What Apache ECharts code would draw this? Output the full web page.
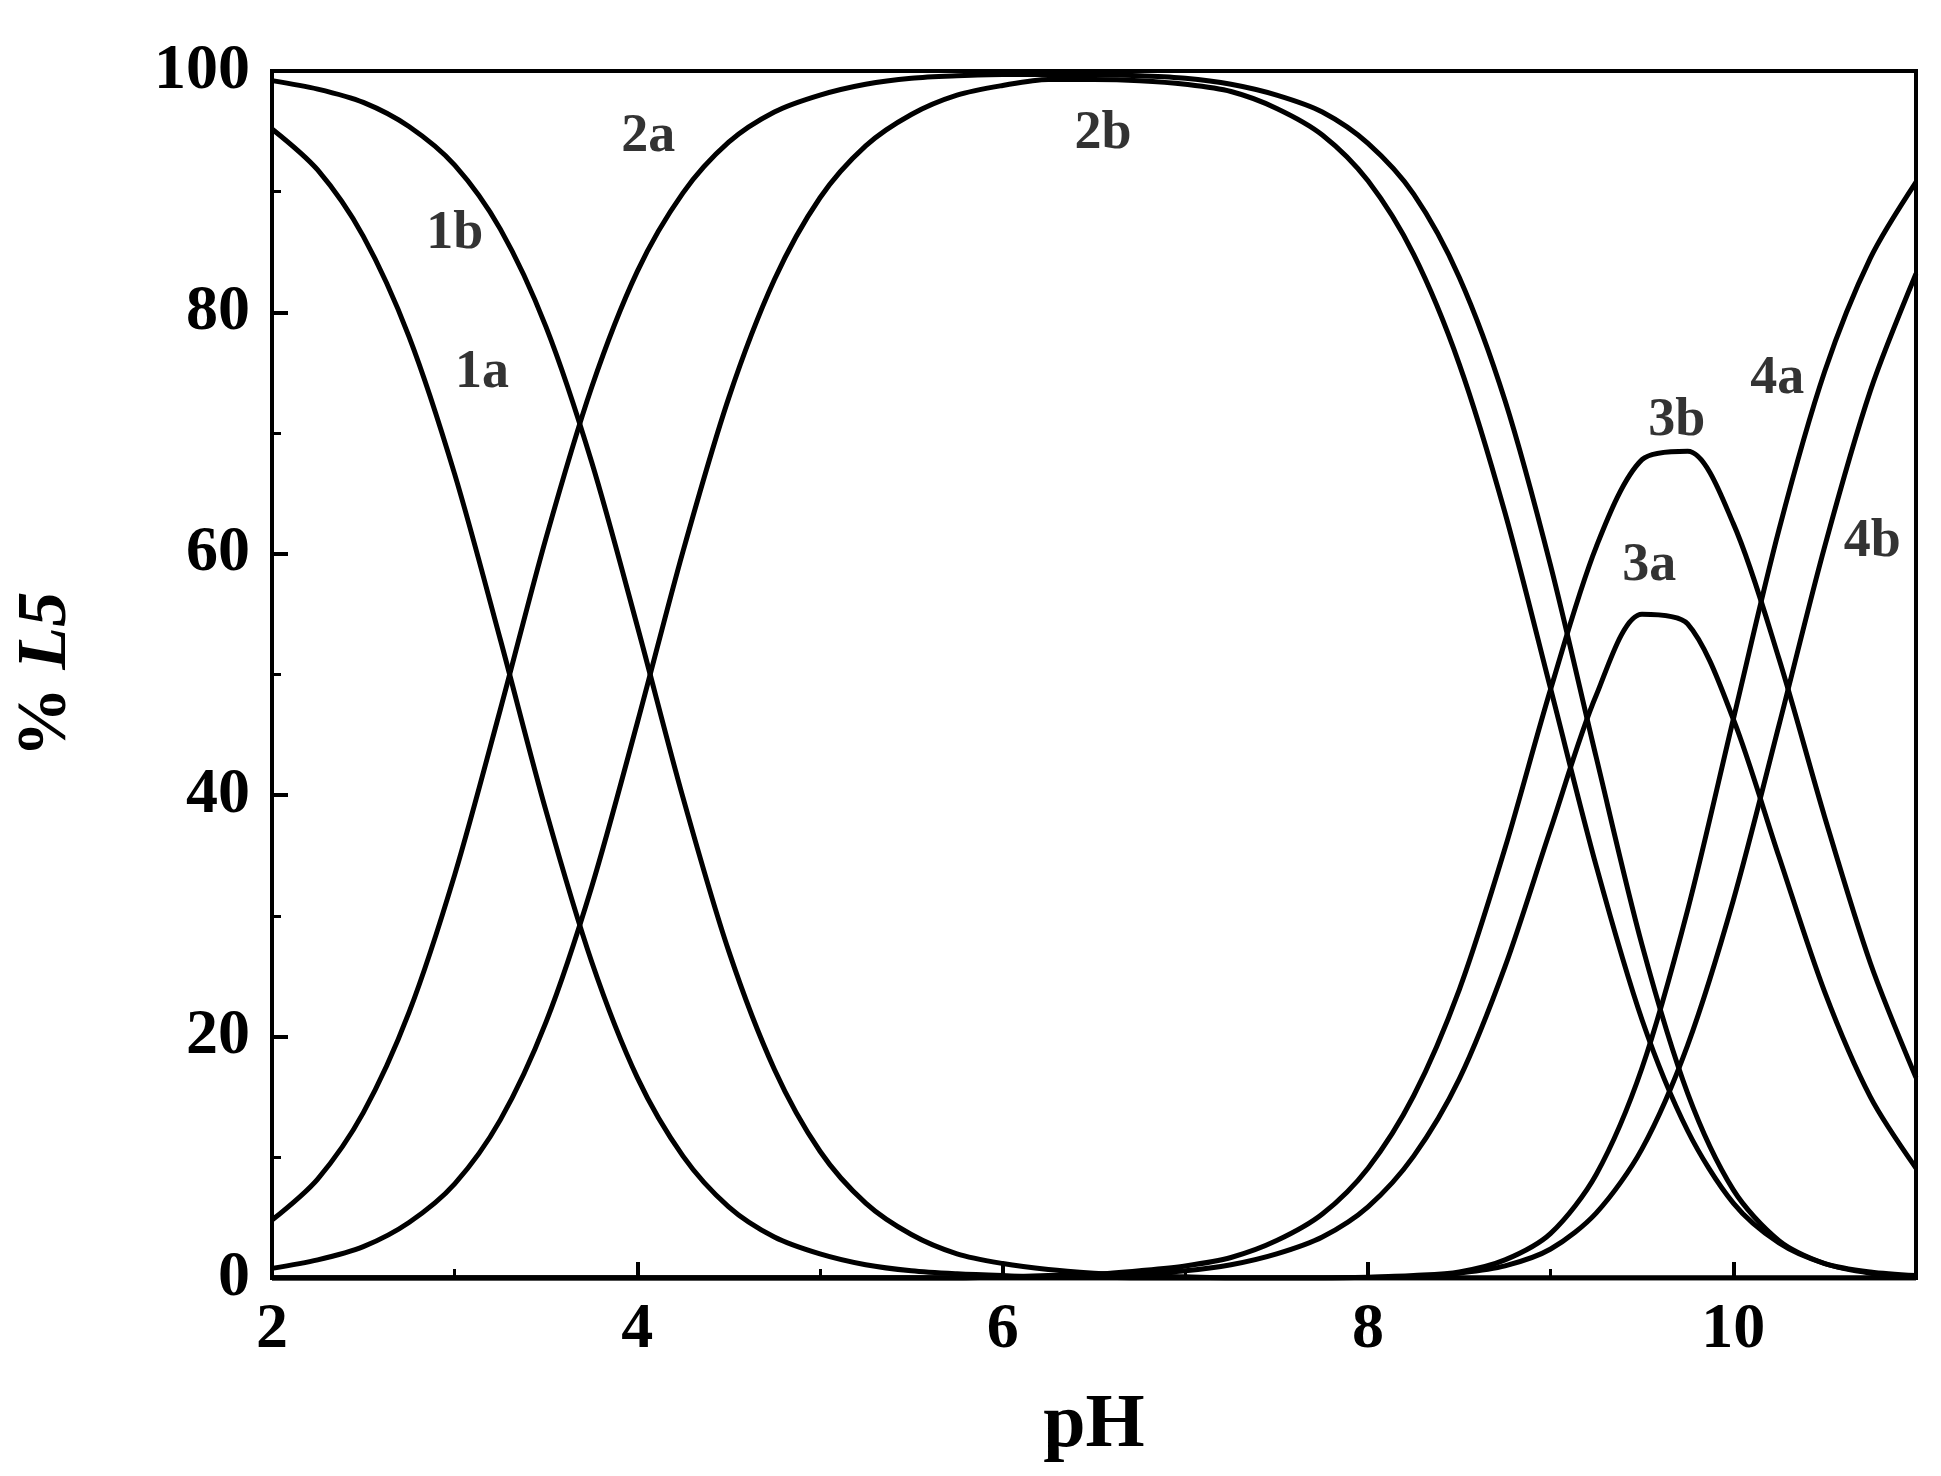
<!DOCTYPE html>
<html>
<head>
<meta charset="UTF-8" />
<title>L5 distribution</title>
<script src="https://cdn.jsdelivr.net/npm/echarts@6/dist/echarts.min.js"></script>
<style>
* { margin: 0; padding: 0; }
html, body { background: #fff; }
#chart { width: 1941px; height: 1476px; }
</style>
</head>
<body>
<div id="chart"></div>
<script>
// pH grid 2 .. 11, step 0.25
let ph = []
for (let i = 0; i <= 36; i++) ph.push(2 + i * 0.25)

let s1a = [95.2,91.8,86.3,78.0,66.6,52.9,38.7,26.2,16.6,10.1,5.9,3.4,2.0,1.1,0.6,0.35,0.2,0.1,0.1,0,0,0,0,0,0,0,0,0,0,0,0,0,0,0,0,0,0]
let s1b = [99.2,98.5,97.4,95.4,92.2,86.9,78.8,67.6,54.0,39.8,27.1,17.3,10.5,6.2,3.6,2.0,1.2,0.7,0.4,0.2,0.1,0,0,0,0,0,0,0,0,0,0,0,0,0,0,0,0]
let s2a = [4.8,8.2,13.7,22.0,33.4,47.1,61.3,73.8,83.4,89.9,94.1,96.6,98.0,98.9,99.4,99.6,99.7,99.7,99.7,99.6,99.4,98.9,98.0,96.6,94.0,89.8,82.9,72.7,59.0,43.1,27.6,15.3,7.3,3.1,1.2,0.4,0.1]
let s2b = [0.8,1.5,2.6,4.6,7.8,13.1,21.2,32.4,46.0,60.2,72.9,82.7,89.5,93.8,96.4,98.0,98.8,99.3,99.3,99.2,98.9,98.3,96.9,94.7,90.9,84.8,75.7,63.4,48.8,34.1,21.4,12.2,6.2,2.9,1.2,0.5,0.2]
let s3a = [0,0,0,0,0,0,0,0,0,0,0,0,0,0,0,0,0.1,0.1,0.2,0.4,0.6,1.1,2.0,3.4,5.9,10.1,16.5,25.8,37.2,48.3,55.0,54.2,46.3,34.9,23.7,15.0,9.1]
let s3b = [0,0,0,0,0,0,0,0,0,0,0,0,0,0,0,0,0.1,0.2,0.3,0.6,1.0,1.7,3.1,5.3,9.1,15.1,23.9,35.6,48.8,60.6,67.8,68.5,62.5,51.3,38.2,26.1,16.6]
let s4a = [0,0,0,0,0,0,0,0,0,0,0,0,0,0,0,0,0,0,0,0,0,0,0,0,0.06,0.2,0.5,1.5,3.7,8.6,17.4,30.5,46.3,62.0,75.1,84.5,90.8]
let s4b = [0,0,0,0,0,0,0,0,0,0,0,0,0,0,0,0,0,0,0,0,0,0,0,0,0.05,0.1,0.4,1.0,2.4,5.4,10.7,19.3,31.3,45.8,60.6,73.5,83.2]

// curve labels: text, pH, %
let curveLabels = [
  ['1b', 3.0, 86.5], ['1a', 3.15, 75], ['2a', 4.06, 94.5], ['2b', 6.55, 94.8],
  ['3b', 9.69, 71], ['3a', 9.54, 59], ['4a', 10.24, 74.5], ['4b', 10.76, 61]
]

let font = 'Liberation Serif'
let chart = echarts.init(document.getElementById('chart'))

function line(vals) {
  return {
    type: 'line', smooth: 0.3, symbol: 'none',
    lineStyle: { color: '#000', width: 5 },
    data: ph.map((x, i) => [x, vals[i]])
  }
}

let option = {
  backgroundColor: '#fff',
  animation: false,
  grid: { left: 272, right: 25, top: 71, bottom: 198, show: true, borderColor: '#000', borderWidth: 4 },
  xAxis: {
    type: 'value', min: 2, max: 11, interval: 2,
    name: 'pH', nameLocation: 'middle', nameGap: 110,
    nameTextStyle: { fontFamily: font, fontWeight: 'bold', fontSize: 76, color: '#000' },
    axisLine: { lineStyle: { color: '#000', width: 4 } },
    axisTick: { inside: true, length: 16, lineStyle: { width: 4 } },
    minorTick: { show: true, splitNumber: 2, length: 9, lineStyle: { color: '#000', width: 3 } },
    axisLabel: { fontFamily: font, fontWeight: 'bold', fontSize: 64, color: '#000', margin: 20, showMaxLabel: false },
    splitLine: { show: false }
  },
  yAxis: {
    type: 'value', min: 0, max: 100, interval: 20,
    name: '{a|% }{b|L5}', nameLocation: 'middle', nameGap: 190,
    nameTextStyle: { rich: {
      a: { fontFamily: font, fontWeight: 'bold', fontSize: 70, color: '#000' },
      b: { fontFamily: font, fontWeight: 'bold', fontStyle: 'italic', fontSize: 70, color: '#000' }
    } },
    axisLine: { lineStyle: { color: '#000', width: 4 } },
    axisTick: { inside: true, length: 16, lineStyle: { width: 4 } },
    minorTick: { show: true, splitNumber: 2, length: 9, lineStyle: { color: '#000', width: 3 } },
    axisLabel: { fontFamily: font, fontWeight: 'bold', fontSize: 64, color: '#000', margin: 22 },
    splitLine: { show: false }
  },
  series: [
    line(s1a), line(s1b), line(s2a), line(s2b), line(s3a), line(s3b), line(s4a), line(s4b),
    {
      type: 'scatter', symbolSize: 0, silent: true,
      label: {
        show: true, position: 'inside', formatter: p => p.data[2],
        fontFamily: font, fontWeight: 'bold', fontSize: 54, color: '#000'
      },
      data: curveLabels.map(l => [l[1], l[2], l[0]])
    }
  ]
}
chart.setOption(option)
</script>
</body>
</html>
